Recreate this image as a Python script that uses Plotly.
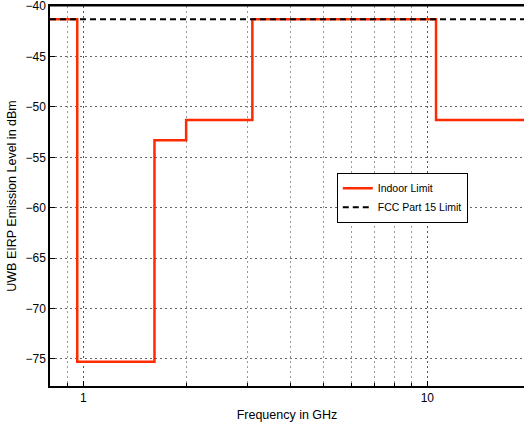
import plotly.graph_objects as go

# data
freq_ghz = [0.8, 0.96, 1.61, 1.99, 3.1, 10.6, 20.0]
indoor_dbm = [-41.3, -75.3, -53.3, -51.3, -41.3, -51.3, -51.3]
fcc_freq = [0.8, 20.0]
fcc_dbm = [-41.3, -41.3]
x_major = [1, 10]
x_minor = [0.8, 0.9, 2, 3, 4, 5, 6, 7, 8, 9, 20]
y_ticks = [-75, -70, -65, -60, -55, -50, -45, -40]
y_labels = ["\u221275", "\u221270", "\u221265", "\u221260", "\u221255", "\u221250", "\u221245", "\u221240"]

font = "Liberation Sans, Arial, Helvetica, sans-serif"

fig = go.Figure()
fig.add_trace(go.Scatter(x=freq_ghz, y=indoor_dbm, mode="lines", line_shape="hv",
                         line=dict(color="#ff2a00", width=2.5), name="Indoor Limit"))
fig.add_trace(go.Scatter(x=fcc_freq, y=fcc_dbm, mode="lines",
                         line=dict(color="black", width=2, dash="6px,4px"), name="FCC Part 15 Limit"))

fig.update_layout(
    width=524, height=422,
    margin=dict(l=50, r=0, t=6, b=36),
    paper_bgcolor="white", plot_bgcolor="white",
    font=dict(family=font, size=12, color="black"),
    showlegend=True,
    legend=dict(x=0.605, y=0.561, xanchor="left", yanchor="top",
                bordercolor="black", borderwidth=1, bgcolor="white",
                font=dict(size=10.5), tracegroupgap=0, itemwidth=30),
)
fig.update_xaxes(
    type="log", range=[-0.0969, 1.281],
    tickvals=x_major, ticktext=["1", "10"],
    ticks="inside", ticklen=5, tickcolor="black",
    showline=True, linecolor="black", linewidth=1.5, mirror=True,
    showgrid=True, gridcolor="#555555", griddash="2px,3px", gridwidth=1,
    minor=dict(tickvals=x_minor, ticks="inside", ticklen=3, tickcolor="black",
               showgrid=True, gridcolor="#999999", griddash="2px,3px", gridwidth=1),
    zeroline=False,
    title=dict(text="Frequency in GHz", standoff=6, font=dict(size=12.5)),
)
fig.update_yaxes(
    range=[-77.7, -39.98], tickvals=y_ticks, ticktext=y_labels,
    ticks="inside", ticklen=5, tickcolor="black",
    ticklabeloverflow="allow",
    showline=True, linecolor="black", linewidth=1.5, mirror=False,
    showgrid=True, gridcolor="#666666", griddash="2px,3px", gridwidth=1,
    zeroline=False,
    title=dict(text="UWB EIRP Emission Level in dBm", standoff=6, font=dict(size=12.5)),
)
fig.add_shape(type="line", xref="paper", yref="paper", x0=0, x1=1, y0=1, y1=1,
              line=dict(color="black", width=1), layer="above")
fig.write_html("out.html")
